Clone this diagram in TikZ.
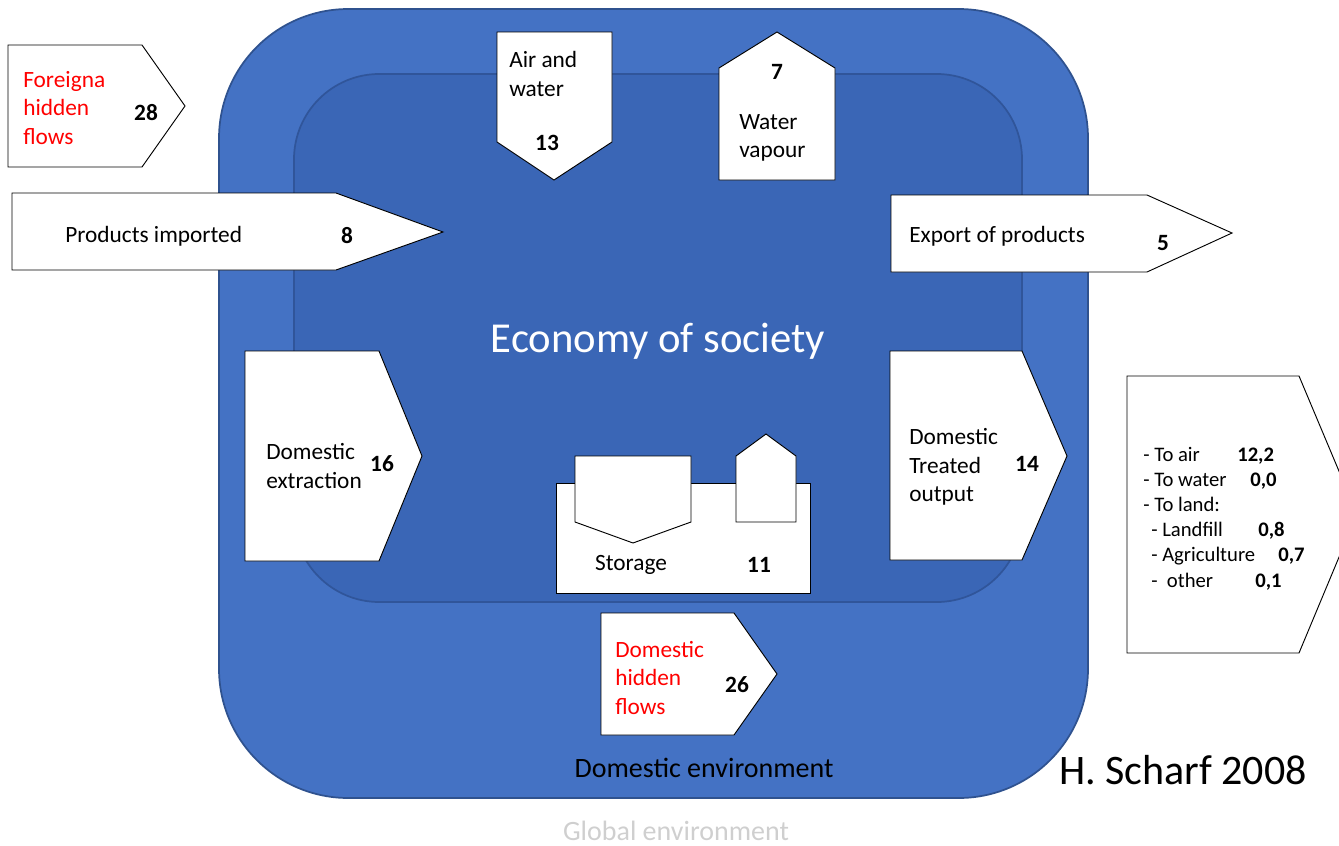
\documentclass[tikz,border=0pt]{standalone}
\usepackage{fontspec}
\setmainfont{Carlito}
\definecolor{envblue}{HTML}{4472C4}
\definecolor{envline}{HTML}{2F528F}
\definecolor{ecoblue}{HTML}{3A66B6}
\definecolor{ecoline}{HTML}{30559A}
\definecolor{globalgray}{HTML}{CFCFCF}
\tikzset{
  flowbox/.style={draw=black, fill=white, line width=0.7pt, line join=miter},
  lbl/.style={font=\fontsize{17.5}{21.2}\selectfont, inner sep=0pt, align=left},
  hid/.style={lbl, text=red},
  num/.style={font=\fontsize{17.5}{21.2}\selectfont\bfseries, inner sep=0pt},
  small/.style={font=\fontsize{15.5}{18.8}\selectfont, inner sep=0pt, anchor=base west},
  smallnum/.style={small, font=\fontsize{15.5}{18.8}\selectfont\bfseries},
}
\begin{document}
\begin{tikzpicture}[x=0.75pt, y=-0.75pt]
\useasboundingbox (0,0) rectangle (1339,846);

% domestic environment and the economy inside it
\draw[fill=envblue, draw=envline, line width=1.3pt, rounded corners=97pt]
  (219,9) rectangle (1088,798);
\draw[fill=ecoblue, draw=ecoline, line width=1.3pt, rounded corners=64pt]
  (294,74) rectangle (1022,602);
\node[font=\fontsize{32}{37}\selectfont, text=white] (eco) at (658,341) {Economy of society};

% foreign hidden flows
\draw[flowbox] (8,45) -- (142,45) -- (185,106) -- (142,167) -- (8,167) -- cycle;
\node[hid, anchor=west] (fhf) at (23,108) {Foreigna\\hidden\\flows};
\node[num] (fhfn) at (146,113) {28};

% products imported
\draw[flowbox] (12,193) -- (336,193) -- (443,232) -- (336,270) -- (12,270) -- cycle;
\node[lbl, anchor=west] (imp) at (65,236) {Products imported};
\node[num] (impn) at (347,236) {8};

% air and water
\draw[flowbox] (497,32) -- (612,32) -- (612,142) -- (554,180) -- (497,142) -- cycle;
\node[lbl, anchor=west] (air) at (509,74) {Air and\\water};
\node[num] (airn) at (547,143) {13};

% water vapour
\draw[flowbox] (719,180) -- (719,68) -- (777,32) -- (835,68) -- (835,180) -- cycle;
\node[num] (vapn) at (777,72) {7};
\node[lbl, anchor=west] (vap) at (739,138) {Water\\vapour};

% export of products
\draw[flowbox] (891,195) -- (1147,195) -- (1232,233) -- (1147,272) -- (891,272) -- cycle;
\node[lbl, anchor=west] (exp) at (909,236) {Export of products};
\node[num] (expn) at (1163,243) {5};

% domestic extraction
\draw[flowbox] (245,351) -- (379,351) -- (422,456) -- (379,561) -- (245,561) -- cycle;
\node[lbl, anchor=west] (ext) at (266,466) {Domestic\\extraction};
\node[num] (extn) at (382,464) {16};

% storage
\draw[flowbox] (556,483) rectangle (810,593);
\draw[flowbox] (575,456) -- (691,456) -- (691,522) -- (633,543) -- (575,522) -- cycle;
\draw[flowbox] (736,522) -- (736,456) -- (766,434) -- (796,456) -- (796,522) -- cycle;
\node[lbl] (sto) at (631,565) {Storage};
\node[num] (ston) at (759,565) {11};

% domestic treated output
\draw[flowbox] (890,351) -- (1022,351) -- (1067,456) -- (1022,560) -- (890,560) -- cycle;
\node[lbl, anchor=west] (dto) at (909,467) {Domestic\\Treated\\output};
\node[num] (dton) at (1027,464) {14};

% breakdown of the output
\begin{scope}
\clip (0,0) rectangle (1339,846);
\draw[flowbox] (1127,376) -- (1299,376) -- (1357,514) -- (1299,653) -- (1127,653) -- cycle;
\end{scope}
\node[small] (l1) at (1143,461) {- To air};
\node[small] (l2) at (1143,486) {- To water};
\node[small] (l3) at (1143,511) {- To land:};
\node[small] (l4) at (1151,536) {- Landfill};
\node[small] (l5) at (1151,561) {- Agriculture};
\node[small] (l6) at (1151,587) {-\ \ other};
\node[smallnum] (n1) at (1237,461) {12,2};
\node[smallnum] (n2) at (1250,486) {0,0};
\node[smallnum] (n4) at (1258,536) {0,8};
\node[smallnum] (n5) at (1278,561) {0,7};
\node[smallnum] (n6) at (1255,587) {0,1};

% domestic hidden flows
\draw[flowbox] (601,613) -- (734,613) -- (777,674) -- (734,735) -- (601,735) -- cycle;
\node[hid, anchor=west] (dhf) at (615,678) {Domestic\\hidden\\flows};
\node[num] (dhfn) at (737,685) {26};

% environment labels and credit
\node[font=\fontsize{21}{25}\selectfont, inner sep=0pt] (denv) at (704,768) {Domestic environment};
\node[font=\fontsize{21}{25}\selectfont, text=globalgray, inner sep=0pt] (genv) at (676,831) {Global environment};
\node[font=\fontsize{31.5}{36}\selectfont, inner sep=0pt] (cred) at (1183,770) {H. Scharf 2008};
\end{tikzpicture}
\end{document}
